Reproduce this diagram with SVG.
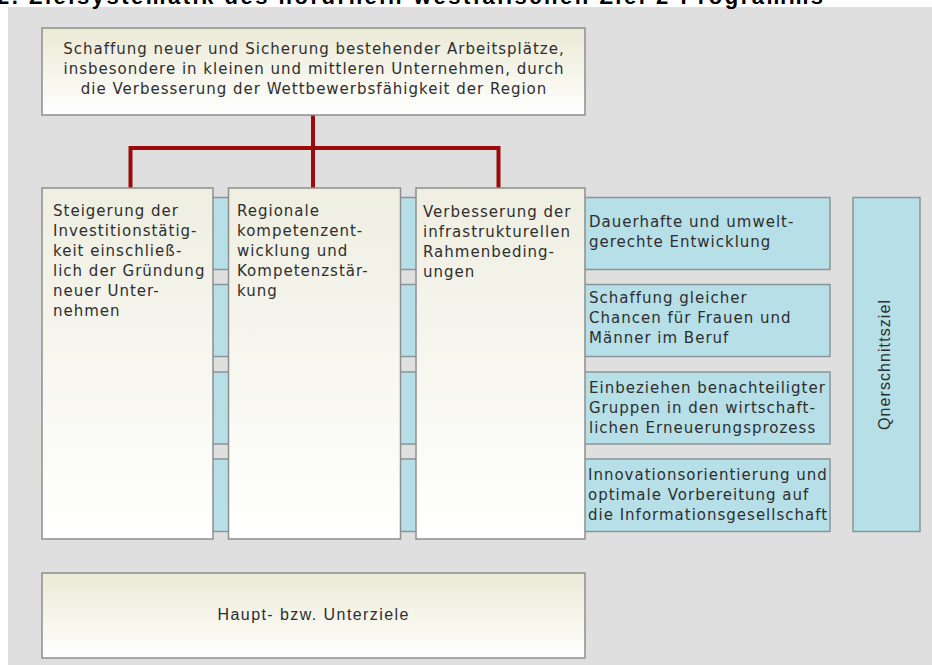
<svg xmlns="http://www.w3.org/2000/svg" width="932" height="665" viewBox="0 0 932 665">
<defs>
<linearGradient id="beige" x1="0" y1="0" x2="0" y2="1">
<stop offset="0" stop-color="#ebead6"/>
<stop offset="1" stop-color="#ffffff"/>
</linearGradient>
<linearGradient id="beigeCol" x1="0" y1="0" x2="0" y2="1">
<stop offset="0" stop-color="#efeee1"/>
<stop offset="1" stop-color="#ffffff"/>
</linearGradient>
</defs>
<style>
.box{stroke:#8e8e8e;stroke-width:1.5}
.top{fill:url(#beige)}
.col{fill:url(#beigeCol)}
.blue{fill:#b6dfe7;stroke:#8a9598;stroke-width:1.5}
.t{font-family:"DejaVu Sans",Verdana,sans-serif;font-size:15px;fill:#2e2e2e;letter-spacing:1px}
.c{text-anchor:middle}
.a{font-family:"Liberation Sans",Arial,sans-serif;fill:#2e2e2e}
.conn{fill:none;stroke:#9c0a0a;stroke-width:4}
</style>
<rect x="0" y="0" width="932" height="665" fill="#ffffff"/>
<rect x="8" y="7" width="924" height="658" fill="#dfdfdf"/>
<text x="-3" y="4" font-family="Liberation Sans, Arial, sans-serif" font-size="22" font-weight="bold" fill="#000000" textLength="826" lengthAdjust="spacing">2. Zielsystematik des nordrhein-westfälischen Ziel 2-Programms</text>

<g id="connectors">
<path class="conn" d="M313 115 V188 M130.5 188 V148 H498.5 V188"/>
</g>

<g id="blue1"><rect class="blue" x="120" y="197.5" width="710" height="72"/>
<text class="t" x="589" y="227">Dauerhafte und umwelt-</text>
<text class="t" x="589" y="247">gerechte Entwicklung</text></g>
<g id="blue2"><rect class="blue" x="120" y="284.5" width="710" height="72"/>
<text class="t" x="589" y="303">Schaffung gleicher</text>
<text class="t" x="589" y="323">Chancen für Frauen und</text>
<text class="t" x="589" y="343">Männer im Beruf</text></g>
<g id="blue3"><rect class="blue" x="120" y="372" width="710" height="72"/>
<text class="t" x="589" y="393">Einbeziehen benachteiligter</text>
<text class="t" x="589" y="413">Gruppen in den wirtschaft-</text>
<text class="t" x="589" y="433">lichen Erneuerungsprozess</text></g>
<g id="blue4"><rect class="blue" x="120" y="459" width="710" height="72.5"/>
<text class="t" x="588" y="480">Innovationsorientierung und</text>
<text class="t" x="588" y="500">optimale Vorbereitung auf</text>
<text class="t" x="588" y="520">die Informationsgesellschaft</text></g>

<g id="col1"><rect class="box col" x="42" y="188" width="171" height="351"/>
<text class="t" x="53" y="216">Steigerung der</text>
<text class="t" x="53" y="236">Investitionstätig-</text>
<text class="t" x="53" y="256">keit einschließ-</text>
<text class="t" x="53" y="276">lich der Gründung</text>
<text class="t" x="53" y="296">neuer Unter-</text>
<text class="t" x="53" y="316">nehmen</text></g>
<g id="col2"><rect class="box col" x="228.5" y="188" width="172" height="351"/>
<text class="t" x="237" y="216">Regionale</text>
<text class="t" x="237" y="236">kompetenzent-</text>
<text class="t" x="237" y="256">wicklung und</text>
<text class="t" x="237" y="276">Kompetenzstär-</text>
<text class="t" x="237" y="296">kung</text></g>
<g id="col3"><rect class="box col" x="416" y="188" width="169" height="351"/>
<text class="t" x="423" y="217">Verbesserung der</text>
<text class="t" x="423" y="237">infrastrukturellen</text>
<text class="t" x="423" y="257">Rahmenbeding-</text>
<text class="t" x="423" y="277">ungen</text></g>

<g id="querschnitt"><rect class="blue" x="853" y="197.5" width="67" height="334"/>
<text class="a c" transform="translate(890,365) rotate(-90)" font-size="16" textLength="130" lengthAdjust="spacing">Qnerschnittsziel</text></g>

<g id="hauptziel"><rect class="box top" x="42" y="28" width="543" height="87"/>
<text class="t c" x="314" y="54">Schaffung neuer und Sicherung bestehender Arbeitsplätze,</text>
<text class="t c" x="314" y="74">insbesondere in kleinen und mittleren Unternehmen, durch</text>
<text class="t c" x="314" y="94">die Verbesserung der Wettbewerbsfähigkeit der Region</text></g>

<g id="legende"><rect class="box top" x="42" y="573" width="543" height="85"/>
<text class="a c" x="313" y="620" font-size="16" textLength="191" lengthAdjust="spacing">Haupt- bzw. Unterziele</text></g>
</svg>
